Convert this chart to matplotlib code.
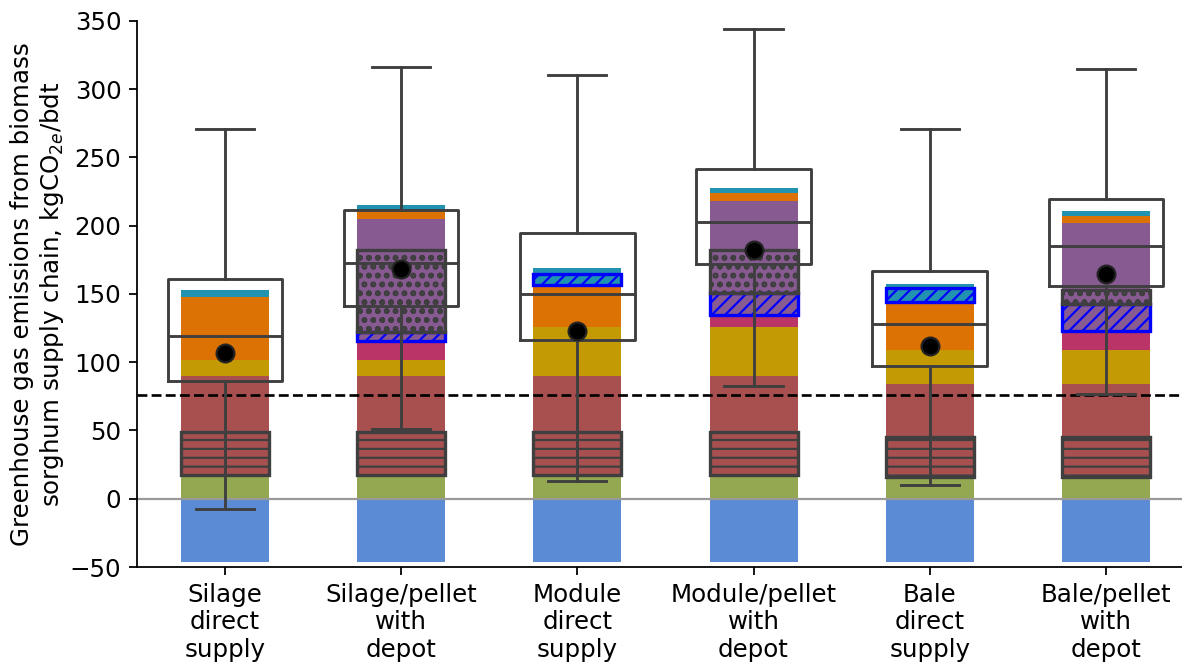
import numpy as np
import matplotlib
matplotlib.use("Agg")
import matplotlib.pyplot as plt

# supply chain configurations
categories = ["Silage\ndirect\nsupply", "Silage/pellet\nwith\ndepot",
              "Module\ndirect\nsupply", "Module/pellet\nwith\ndepot",
              "Bale\ndirect\nsupply", "Bale/pellet\nwith\ndepot"]

# stacked contributions, kgCO2e/bdt
credit = [-46, -46, -46, -46, -46, -46]
green = [17.6, 17.6, 17.6, 17.6, 16.3, 16.3]
red = [72.4, 72.4, 72.4, 72.4, 67.7, 67.7]
gold = [11.3, 11.3, 35.5, 35.5, 24.7, 24.7]
magenta = [0, 13.7, 0, 9.5, 0, 14.3]
purple = [0, 90, 0, 83, 0, 79]
orange = [46.7, 5.5, 31.5, 6, 35.3, 5.3]
teal = [4.6, 4.5, 12, 3.6, 13.5, 3.7]

# hatched sub-ranges (low, high)
red_hatch_lo = [17.6, 17.6, 17.6, 17.6, 16.3, 16.3]
red_hatch_hi = [48.8, 48.8, 48.8, 48.8, 45.6, 45.6]
blue_hatch_lo = [np.nan, 115.7, 156.8, 134.8, 144, 123]
blue_hatch_hi = [np.nan, 122, 164.8, 151, 154.3, 143]
dot_hatch_lo = [np.nan, 122, np.nan, 151, np.nan, 143]
dot_hatch_hi = [np.nan, 182.4, np.nan, 182.4, np.nan, 153]

# box summary of uncertainty
q1 = [86.4, 141, 116, 172, 97, 156]
med = [119, 172.6, 150, 203, 128, 185]
q3 = [161, 211.7, 194.6, 241.5, 166.5, 219.8]
whislo = [-7.6, 51, 13, 82.8, 10, 77]
whishi = [271, 316.5, 310.6, 344, 271, 315]
means = [107, 168.5, 123, 182, 111.6, 165]

threshold = 76

layers = [
    (green, "#93a850"),
    (red, "#a85050"),
    (gold, "#c49a04"),
    (magenta, "#ba3468"),
    (purple, "#885a92"),
    (orange, "#dc7104"),
    (teal, "#2193b0"),
]

plt.rcParams["font.size"] = 11

fig = plt.figure(figsize=(1182 / 160, 662 / 160), dpi=160)
ax = fig.add_axes([0.1159, 0.1435, 0.8942, 0.8248])

x = np.arange(len(categories))
w = 0.5

ax.bar(x, credit, width=w, color="#5b8bd4", zorder=1)
bottom = np.zeros(len(x))
for vals, col in layers:
    vals = np.array(vals, dtype=float)
    ax.bar(x, vals, width=w, bottom=bottom, color=col, zorder=1)
    bottom += vals

# hatched overlays
def hatch_bar(lo, hi, edge, hatch):
    lo = np.array(lo, dtype=float)
    hi = np.array(hi, dtype=float)
    ok = ~np.isnan(lo)
    ax.bar(x[ok], (hi - lo)[ok], width=w, bottom=lo[ok], facecolor="none",
           edgecolor=edge, hatch=hatch, linewidth=1.5, zorder=2)

hatch_bar(red_hatch_lo, red_hatch_hi, "#3f3f3f", "---")
hatch_bar(blue_hatch_lo, blue_hatch_hi, "blue", "////")
hatch_bar(dot_hatch_lo, dot_hatch_hi, "#3f3f3f", "ooo")

ax.axhline(0, color="#999999", linewidth=1.0, zorder=2.5)
ax.axhline(threshold, color="black", linestyle="--", linewidth=1.2, zorder=2.5)

stats = []
for i in range(len(x)):
    stats.append(dict(q1=q1[i], med=med[i], q3=q3[i], whislo=whislo[i],
                      whishi=whishi[i], mean=means[i], fliers=[]))

line = dict(color="#3f3f3f", linewidth=1.3)
bp = ax.bxp(stats, positions=x, widths=0.65, capwidths=0.33, showmeans=True,
            showfliers=False, boxprops=line, whiskerprops=line, capprops=line,
            medianprops=line,
            meanprops=dict(marker="o", markerfacecolor="black",
                           markeredgecolor="#222222", markersize=8),
            manage_ticks=False, zorder=3)
for m in bp["means"]:
    m.set_zorder(4)

ax.set_xlim(-0.5, 5.5)
ax.set_ylim(-50, 350)
ax.set_yticks(np.arange(-50, 351, 50))
ax.set_xticks(x)
ax.set_xticklabels(categories)
ax.set_ylabel("Greenhouse gas emissions from biomass\n"
              "sorghum supply chain, kgCO$_{2e}$/bdt", labelpad=1.5)
ax.spines["top"].set_visible(False)
ax.spines["right"].set_visible(False)

fig.savefig("out.png", dpi=160)
